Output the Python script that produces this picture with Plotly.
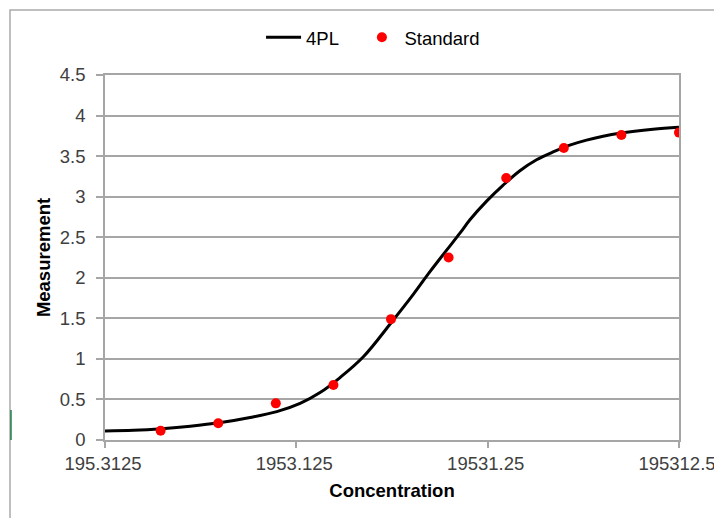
import plotly.graph_objects as go

# Standard points (two-fold dilution series)
std_conc = [381.4697, 762.9395, 1525.879, 3051.758, 6103.516,
            12207.03, 24414.06, 48828.13, 97656.25, 195312.5]
std_meas = [0.115, 0.206, 0.452, 0.678, 1.49, 2.25, 3.23, 3.60, 3.76, 3.79]

# 4PL fitted curve
curve_conc = [195.3125, 275.4, 387.5, 544.7, 771.8, 1120, 1544, 2044, 2599, 3306,
              4375, 6155, 7980, 9752, 11920, 13990, 15780, 19290, 23540, 28790,
              35180, 42950, 52500, 64170, 78340, 95760, 142900, 195312.5]
curve_meas = [0.112, 0.120, 0.140, 0.170, 0.212, 0.278, 0.350, 0.452, 0.585, 0.77,
              1.026, 1.455, 1.795, 2.075, 2.34, 2.55, 2.715, 2.945, 3.143, 3.32,
              3.455, 3.552, 3.635, 3.697, 3.745, 3.782, 3.83, 3.855]

x_ticks = [195.3125, 1953.125, 19531.25, 195312.5]
x_ticktext = ["195.3125", "1953.125", "19531.25", "195312.5"]
y_ticks = [0, 0.5, 1, 1.5, 2, 2.5, 3, 3.5, 4, 4.5]
y_ticktext = ["0", "0.5", "1", "1.5", "2", "2.5", "3", "3.5", "4", "4.5"]

FONT = "Liberation Sans, Arial, sans-serif"
GRID = "#A6A6A6"
NB = "\u00a0"

fig = go.Figure()
fig.add_trace(go.Scatter(x=curve_conc, y=curve_meas, mode="lines", name="4PL" + NB * 3,
                         line=dict(color="black", width=3, shape="spline", smoothing=1.0)))
fig.add_trace(go.Scatter(x=std_conc, y=std_meas, mode="markers", name="Standard",
                         marker=dict(color="#FF0000", size=10)))

# page body has an 8px margin, so the figure is 8px smaller and shifted accordingly
fig.update_layout(
    width=714, height=510,
    margin=dict(l=97, r=43, t=67, b=78, autoexpand=False),
    paper_bgcolor="white", plot_bgcolor="white",
    font=dict(family=FONT, size=18.5, color="#404040"),
    showlegend=True,
    legend=dict(orientation="h", x=0.467, xanchor="center", y=1.102, yanchor="middle",
                font=dict(family=FONT, size=18.5, color="black"),
                bgcolor="rgba(0,0,0,0)", itemwidth=35),
    xaxis=dict(type="log", automargin=False,
               range=[2.290730039, 5.290730039],
               tickvals=x_ticks, ticktext=x_ticktext,
               showgrid=False, zeroline=False,
               showline=True, linecolor=GRID, linewidth=1.5, mirror=True,
               ticks="outside", ticklen=6, tickcolor=GRID, tickwidth=1.5,
               ticklabelshift=-2,
               tickfont=dict(family=FONT, size=18.5, color="#404040"),
               title=dict(text="<b>Concentration</b>", standoff=11,
                          font=dict(family=FONT, size=18.5, color="black"))),
    yaxis=dict(range=[0, 4.5], tickvals=y_ticks, ticktext=y_ticktext, automargin=False,
               showgrid=True, gridcolor=GRID, gridwidth=1.5, zeroline=False,
               showline=True, linecolor=GRID, linewidth=1.5, mirror=True,
               ticks="outside", ticklen=7, tickcolor=GRID, tickwidth=1.5,
               ticklabelstandoff=7,
               tickfont=dict(family=FONT, size=18.5, color="#404040"),
               title=dict(text="<b>Measurement</b>", standoff=4,
                          font=dict(family=FONT, size=18.5, color="black"))),
    shapes=[
        dict(type="rect", xref="paper", yref="paper",
             x0=-0.1655, x1=1.0889, y0=-0.2466, y1=1.178,
             line=dict(color="#ABABAB", width=1.5), fillcolor="rgba(0,0,0,0)", layer="below"),
        dict(type="line", xref="paper", yref="paper",
             x0=-0.1638, x1=-0.1638, y0=0.0, y1=0.0822,
             line=dict(color="#1E7B45", width=1.5)),
    ],
)

fig.write_html("out.html")
